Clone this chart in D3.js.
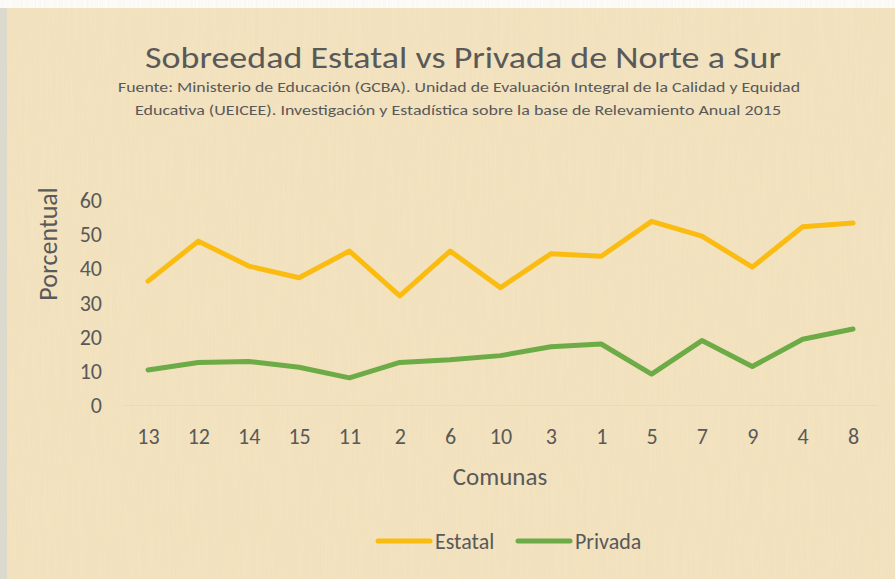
<!DOCTYPE html>
<html>
<head>
<meta charset="utf-8">
<script src="https://cdn.jsdelivr.net/npm/d3@7"></script>
<style>
  body { margin: 0; background: #fff; }
  svg { display: block; }
  text { font-family: Carlito, Calibri, Lato, sans-serif; fill: #595959; }
</style>
</head>
<body>
<svg id="chart"></svg>
<script>
const comunas = ['13', '12', '14', '15', '11', '2', '6', '10', '3', '1', '5', '7', '9', '4', '8'];
const estatal = [36.4, 48.1, 40.8, 37.4, 45.2, 32.1, 45.2, 34.5, 44.4, 43.7, 53.9, 49.6, 40.5, 52.3, 53.4];
const privada = [10.4, 12.6, 12.9, 11.2, 8.1, 12.6, 13.4, 14.6, 17.2, 18.0, 9.2, 19.0, 11.4, 19.4, 22.4];
const yTicks = [0, 10, 20, 30, 40, 50, 60];

const series = [
  {name: 'Estatal', values: estatal, color: '#fbbc12'},
  {name: 'Privada', values: privada, color: '#6cab45'}
];

const width = 895,
      height = 579;

const svg = d3.select('#chart')
              .attr('width', width)
              .attr('height', height);

// papyrus-like background
const defs = svg.append('defs');
const filt = defs.append('filter').attr('id', 'paper');
filt.append('feTurbulence')
    .attr('type', 'fractalNoise')
    .attr('baseFrequency', '0.6 0.015')
    .attr('numOctaves', 2)
    .attr('seed', 3);
filt.append('feColorMatrix')
    .attr('values', '0 0 0 0 0.80  0 0 0 0 0.68  0 0 0 0 0.48  0 0 0 0.35 -0.05');

svg.append('rect')
   .attr('x', 7).attr('y', 8)
   .attr('width', width - 7).attr('height', height - 8)
   .attr('fill', '#f3e3bf');
svg.append('rect')
   .attr('x', 7).attr('y', 8)
   .attr('width', width - 7).attr('height', height - 8)
   .attr('filter', 'url(#paper)');
svg.append('rect')
   .attr('x', 0).attr('y', 8)
   .attr('width', 7).attr('height', height - 8)
   .attr('fill', '#dcd9cf');

const x = d3.scalePoint()
            .domain(comunas)
            .range([148, 853]);

const y = d3.scaleLinear()
            .domain([0, 60])
            .range([405.5, 200.5]);

// title
svg.append('text')
   .attr('x', 463).attr('y', 68)
   .attr('text-anchor', 'middle')
   .attr('font-size', 31)
   .attr('textLength', 636)
   .attr('lengthAdjust', 'spacingAndGlyphs')
   .text('Sobreedad Estatal vs Privada de Norte a Sur');

svg.append('text')
   .attr('x', 459).attr('y', 92)
   .attr('text-anchor', 'middle')
   .attr('font-size', 14)
   .attr('textLength', 682)
   .attr('lengthAdjust', 'spacingAndGlyphs')
   .text('Fuente: Ministerio de Educación (GCBA). Unidad de Evaluación Integral de la Calidad y Equidad');

svg.append('text')
   .attr('x', 458).attr('y', 115)
   .attr('text-anchor', 'middle')
   .attr('font-size', 14)
   .attr('textLength', 646)
   .attr('lengthAdjust', 'spacingAndGlyphs')
   .text('Educativa (UEICEE). Investigación y Estadística sobre la base de Relevamiento Anual 2015');

// baseline
svg.append('line')
   .attr('x1', 123).attr('x2', 878)
   .attr('y1', y(0)).attr('y2', y(0))
   .attr('stroke', '#e4dac6')
   .attr('stroke-width', 1);

// y axis
const yAxis = d3.axisLeft(y)
                .tickValues(yTicks)
                .tickSize(0)
                .tickPadding(0);

const gy = svg.append('g')
              .attr('transform', 'translate(102, 0)')
              .call(yAxis);
gy.select('.domain').remove();
gy.selectAll('text')
  .attr('font-size', 22)
  .attr('fill', '#595959');

// x axis
const xAxis = d3.axisBottom(x)
                .tickSize(0)
                .tickPadding(0);

const gx = svg.append('g')
              .attr('transform', 'translate(0, 428)')
              .call(xAxis);
gx.select('.domain').remove();
gx.selectAll('text')
  .attr('font-size', 22)
  .attr('fill', '#595959');

svg.append('text')
   .attr('transform', 'translate(57, 244) rotate(-90)')
   .attr('text-anchor', 'middle')
   .attr('font-size', 26)
   .text('Porcentual');

svg.append('text')
   .attr('x', 500).attr('y', 485)
   .attr('text-anchor', 'middle')
   .attr('font-size', 25)
   .text('Comunas');

// lines
const line = d3.line()
               .x((d, i) => x(comunas[i]))
               .y(d => y(d));

svg.selectAll('path.serie')
   .data(series)
   .enter()
   .append('path')
   .attr('class', 'serie')
   .attr('d', d => line(d.values))
   .attr('fill', 'none')
   .attr('stroke', d => d.color)
   .attr('stroke-width', 5)
   .attr('stroke-linejoin', 'round')
   .attr('stroke-linecap', 'round');

// legend
const legendX = [378, 518];
const lg = svg.selectAll('g.legend')
              .data(series)
              .enter()
              .append('g')
              .attr('class', 'legend')
              .attr('transform', (d, i) => 'translate(' + legendX[i] + ', 541)');

lg.append('line')
  .attr('x1', 0).attr('x2', 52)
  .attr('y1', 0).attr('y2', 0)
  .attr('stroke', d => d.color)
  .attr('stroke-width', 5)
  .attr('stroke-linecap', 'round');

lg.append('text')
  .attr('x', 57).attr('y', 8)
  .attr('font-size', 22)
  .text(d => d.name);
</script>
</body>
</html>
